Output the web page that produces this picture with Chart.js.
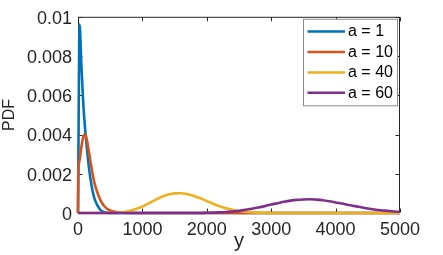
<!DOCTYPE html>
<html><head><meta charset="utf-8">
<script src="https://cdn.jsdelivr.net/npm/chart.js@4/dist/chart.umd.min.js"></script>
<style>html,body{margin:0;padding:0;background:#fff;overflow:hidden}</style>
</head><body>
<canvas id="c" width="443" height="255" style="display:block;width:443px;height:255px"></canvas>
<script>
// ---- data ----
const seriesLabels = ['a = 1', 'a = 10', 'a = 40', 'a = 60'];

const xTicks = [0, 1000, 2000, 3000, 4000, 5000];
const xTickLabels = ['0', '1000', '2000', '3000', '4000', '5000'];
const yTicks = [0, 0.002, 0.004, 0.006, 0.008, 0.01];
const yTickLabels = ['0', '0.002', '0.004', '0.006', '0.008', '0.01'];

const a1X = [0, 25, 50, 75, 100, 150, 200, 250, 300, 350, 400, 500, 5000];
const a1Y = [0, 0.0096, 0.0077, 0.0060, 0.0047, 0.0029, 0.0016, 0.0008, 0.0004, 0.00015, 0.00005, 0, 0];

const a10X = [0, 5, 25, 50, 75, 100, 125, 150, 200, 250, 300, 350, 400, 450, 500, 550, 600, 700, 800, 5000];
const a10Y = [0, 0.0021, 0.0027, 0.0033, 0.0038, 0.0040, 0.0039, 0.0035, 0.0025, 0.0016, 0.00105, 0.00064, 0.00038, 0.00022, 0.00013, 0.00008, 0.00005, 0.00002, 0, 0];

const a40X = [0, 500, 600, 700, 800, 900, 1000, 1100, 1200, 1300, 1400, 1500, 1600, 1700, 1800, 1900, 2000, 2100, 2200, 2300, 2400, 2500, 2600, 2700, 2800, 2900, 3000, 5000];
const a40Y = [0, 0, 0.00001, 0.00004, 0.0001, 0.0002, 0.00033, 0.0005, 0.00067, 0.00083, 0.00094, 0.001, 0.00101, 0.00096, 0.00087, 0.00075, 0.00061, 0.00047, 0.00034, 0.00024, 0.00016, 0.0001, 0.00006, 0.00004, 0.00002, 0.00001, 0, 0];

const a60X = [0, 1900, 2000, 2100, 2200, 2300, 2400, 2500, 2600, 2700, 2800, 2900, 3000, 3100, 3200, 3300, 3400, 3500, 3600, 3700, 3800, 3900, 4000, 4100, 4200, 4300, 4400, 4500, 4600, 4700, 4800, 4900, 5000];
const a60Y = [0, 0, 0.00001, 0.00002, 0.00003, 0.00005, 0.00008, 0.00011, 0.00016, 0.00022, 0.00028, 0.00035, 0.00043, 0.0005, 0.00057, 0.00063, 0.00067, 0.00069, 0.0007, 0.00068, 0.00065, 0.0006, 0.00054, 0.00048, 0.00041, 0.00035, 0.00029, 0.00023, 0.00018, 0.00014, 0.00011, 0.00008, 0.00006];

// ---- chart ----
const FONT = '"Liberation Sans", Arial, Helvetica, sans-serif';
const pts = (xs, ys) => xs.map((x, i) => ({ x: x, y: ys[i] }));
const seriesX = [a1X, a10X, a40X, a60X];
const seriesY = [a1Y, a10Y, a40Y, a60Y];
const colors = ['#0072BD', '#D95319', '#EDB120', '#7E2F8E'];

const frame = {
  id: 'frame',
  beforeDatasetsDraw(chart) {
    const { ctx, chartArea: a, scales: { x, y } } = chart;
    ctx.save();
    ctx.strokeStyle = '#262626';
    ctx.lineWidth = 1;
    const L = a.left + 0.5, R = a.right - 0.5, T = a.top + 0.5, B = a.bottom - 0.5;
    ctx.strokeRect(L, T, R - L, B - T);
    ctx.beginPath();
    const tl = 4;
    xTicks.forEach(v => {
      const px = Math.round(x.getPixelForValue(v)) + 0.5;
      ctx.moveTo(px, B); ctx.lineTo(px, B - tl);
      ctx.moveTo(px, T); ctx.lineTo(px, T + tl);
    });
    yTicks.forEach(v => {
      const py = Math.round(y.getPixelForValue(v)) + 0.5;
      ctx.moveTo(L, py); ctx.lineTo(L + tl, py);
      ctx.moveTo(R, py); ctx.lineTo(R - tl, py);
    });
    ctx.stroke();
    ctx.restore();
  }
};

const legendBox = {
  id: 'legendBox',
  afterDatasetsDraw(chart) {
    const { ctx, chartArea: a } = chart;
    const bx = a.right - 96.5, by = a.top + 2.5, bw = 94, bh = 86.5;
    ctx.save();
    ctx.fillStyle = '#ffffff';
    ctx.fillRect(bx, by, bw, bh);
    ctx.strokeStyle = '#8c8c8c';
    ctx.lineWidth = 1;
    ctx.strokeRect(bx, by, bw, bh);
    ctx.font = '16px ' + FONT;
    ctx.textBaseline = 'middle';
    ctx.textAlign = 'left';
    chart.data.datasets.forEach((ds, i) => {
      const yy = by + 12.2 + i * 20.45;
      ctx.strokeStyle = ds.borderColor;
      ctx.lineWidth = 2.5;
      ctx.beginPath();
      ctx.moveTo(bx + 4, yy); ctx.lineTo(bx + 41.5, yy);
      ctx.stroke();
      ctx.fillStyle = '#000000';
      ctx.fillText(ds.label, bx + 44.5, yy + 0.5);
    });
    ctx.restore();
  }
};

new Chart(document.getElementById('c'), {
  type: 'line',
  data: {
    datasets: seriesLabels.map((lab, i) => ({
      label: lab,
      data: pts(seriesX[i], seriesY[i]),
      borderColor: colors[i],
      backgroundColor: colors[i],
      borderWidth: 2.6,
      pointRadius: 0,
      fill: false,
      cubicInterpolationMode: 'monotone',
      clip: false,
      order: seriesLabels.length - i
    }))
  },
  options: {
    responsive: false,
    animation: false,
    devicePixelRatio: 1,
    layout: { padding: { top: 6, right: 43, left: 0, bottom: 0 } },
    plugins: { legend: { display: false }, tooltip: { enabled: false } },
    scales: {
      x: {
        type: 'linear', min: 0, max: 5000,
        afterFit: s => { s.height = 42; },
        afterBuildTicks: s => { s.ticks = xTicks.map(v => ({ value: v })); },
        grid: { display: false, drawTicks: false },
        border: { display: false },
        ticks: {
          color: '#262626', font: { family: FONT, size: 18 }, padding: 6,
          maxRotation: 0, autoSkip: false,
          callback: (v, i) => xTickLabels[i]
        },
        title: { display: true, text: 'y', color: '#262626', font: { family: FONT, size: 20 }, padding: { top: 0, bottom: 2 } }
      },
      y: {
        type: 'linear', min: 0, max: 0.01,
        afterFit: s => { s.width = 78; },
        afterBuildTicks: s => { s.ticks = yTicks.map(v => ({ value: v })); },
        grid: { display: false, drawTicks: false },
        border: { display: false },
        ticks: {
          color: '#262626', font: { family: FONT, size: 18 }, padding: 6,
          autoSkip: false, labelOffset: 2,
          callback: (v, i) => yTickLabels[i]
        },
        title: { display: true, text: 'PDF', color: '#262626', font: { family: FONT, size: 16 }, padding: { top: 0, bottom: 0 } }
      }
    }
  },
  plugins: [frame, legendBox]
});
</script>
</body></html>
